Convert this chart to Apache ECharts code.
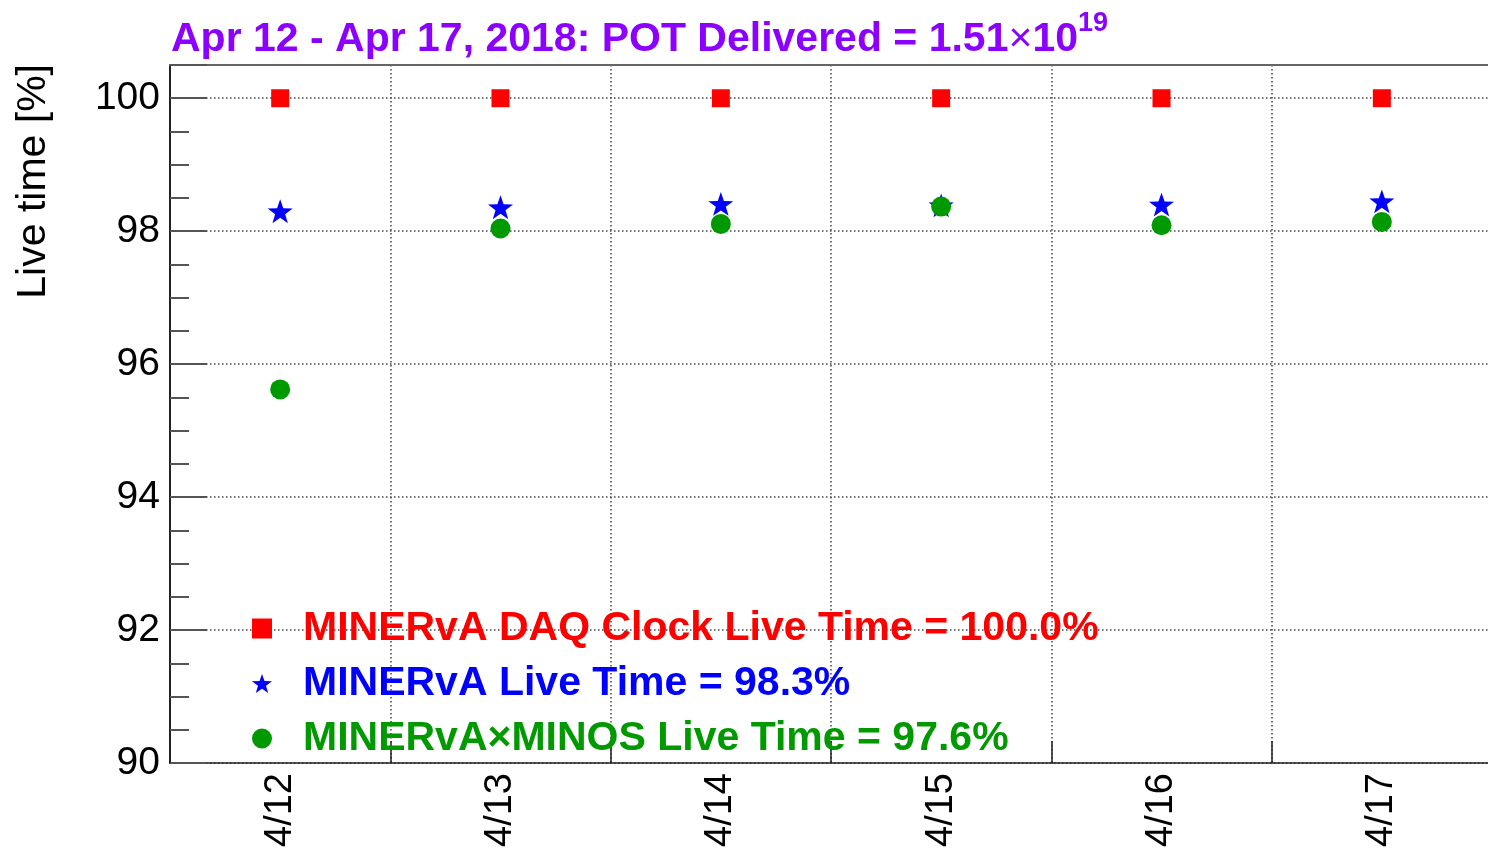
<!DOCTYPE html>
<html>
<head>
<meta charset="utf-8">
<script src="https://cdn.jsdelivr.net/npm/echarts@6/dist/echarts.min.js"></script>
<style>
html,body{margin:0;padding:0;background:#fff;}
#chart{width:1488px;height:849px;}
</style>
</head>
<body>
<div id="chart"></div>
<script>
const categories = ['4/12', '4/13', '4/14', '4/15', '4/16', '4/17'];
const daqClockLive = [100, 100, 100, 100, 100, 100];
const minervaLive = [98.30, 98.36, 98.41, 98.39, 98.40, 98.45];
const minervaMinosLive = [95.62, 98.04, 98.11, 98.37, 98.09, 98.14];
const seriesNames = [
  'MINERvA DAQ Clock Live Time = 100.0%',
  'MINERvA Live Time = 98.3%',
  'MINERvA\u00d7MINOS Live Time = 97.6%'
];
const yTicks = [90, 92, 94, 96, 98, 100];

const FONT = '"Liberation Sans", Arial, Helvetica, sans-serif';
const STAR = 'path://M50 0 L61.76 33.82 L97.55 34.55 L69.02 56.18 L79.39 90.45 L50 70 L20.61 90.45 L30.98 56.18 L2.45 34.55 L38.24 33.82 Z';
const colors = ['#ff0000', '#0000ff', '#009900'];

const chart = echarts.init(document.getElementById('chart'), null, {renderer: 'canvas'});
const grid = {left: 170, top: 65, width: 1322, height: 698, containLabel: false, outerBoundsMode: 'none'};

const option = {
  animation: false,
  backgroundColor: '#ffffff',
  title: {
    left: 166, top: 5,
    text: '{a|Apr 12 - Apr 17, 2018: POT Delivered = 1.51}{x|\u00d7}{a|10}{s|19}',
    textStyle: {
      rich: {
        a: {fontFamily: FONT, fontWeight: 'bold', fontSize: 41, color: '#8c00ff', lineHeight: 50, verticalAlign: 'bottom'},
        x: {fontFamily: FONT, fontWeight: 'normal', fontSize: 41, color: '#8c00ff', lineHeight: 50, verticalAlign: 'bottom'},
        s: {fontFamily: FONT, fontWeight: 'bold', fontSize: 27, color: '#8c00ff', lineHeight: 50, verticalAlign: 'top', padding: [0, 0, 22, 0]}
      }
    }
  },
  graphic: [{
    type: 'text',
    x: 13, y: 64,
    rotation: Math.PI / 2,
    style: {
      text: 'Live time [%]',
      fontFamily: FONT, fontSize: 41, fill: '#000',
      align: 'right', verticalAlign: 'top'
    }
  }],
  legend: {
    orient: 'vertical',
    left: 247, top: 602,
    itemWidth: 20, itemHeight: 20,
    itemGap: 12,
    selectedMode: false,
    data: seriesNames.map((n, i) => ({
      name: n,
      icon: i === 0 ? 'rect' : (i === 1 ? STAR : 'circle'),
      itemStyle: {color: colors[i]},
      textStyle: {color: colors[i]}
    })),
    textStyle: {fontFamily: FONT, fontWeight: 'bold', fontSize: 41, lineHeight: 43, padding: [0, 0, 0, 26]}
  },
  grid: grid,
  xAxis: [{
    type: 'category',
    data: categories,
    boundaryGap: true,
    position: 'bottom',
    axisLine: {show: true, lineStyle: {color: '#222', width: 1.5}},
    axisTick: {show: true, inside: true, length: 22, interval: 0, lineStyle: {color: '#222', width: 1.5}},
    axisLabel: {show: true, rotate: 90, margin: 10, interval: 0, fontFamily: FONT, fontSize: 38, color: '#000'},
    splitLine: {show: true, interval: 0, lineStyle: {color: '#444', width: 1.5, type: [1.5, 2.5]}}
  }, {
    type: 'category',
    data: categories,
    boundaryGap: true,
    position: 'top',
    axisLine: {show: true, lineStyle: {color: '#666', width: 2}},
    axisTick: {show: false},
    axisLabel: {show: false},
    splitLine: {show: false}
  }],
  yAxis: {
    type: 'value',
    min: 90, max: 100.5, interval: 2,
    axisLine: {show: true, lineStyle: {color: '#222', width: 2}},
    axisTick: {show: true, inside: true, length: 37, lineStyle: {color: '#555', width: 2}},
    minorTick: {show: true, splitNumber: 4, length: 19, lineStyle: {color: '#555', width: 2}},
    axisLabel: {
      margin: 10, fontFamily: FONT, fontSize: 39, color: '#000',
      showMaxLabel: false,
      formatter: v => (yTicks.indexOf(v) >= 0 ? String(v) : '')
    },
    splitLine: {show: true, lineStyle: {color: '#444', width: 1.5, type: [1.5, 2.5]}}
  },
  series: [{
    name: seriesNames[0], type: 'scatter', data: daqClockLive,
    symbol: 'rect', symbolSize: 18, itemStyle: {color: colors[0], opacity: 1}, z: 3
  }, {
    name: seriesNames[1], type: 'scatter', data: minervaLive,
    symbol: STAR, symbolSize: 25, symbolKeepAspect: true, itemStyle: {color: colors[1], opacity: 1}, z: 3
  }, {
    name: seriesNames[2], type: 'scatter', data: minervaMinosLive,
    symbol: 'circle', symbolSize: 20, itemStyle: {color: colors[2], opacity: 1}, z: 4
  }]
};
chart.setOption(option);
</script>
</body>
</html>
